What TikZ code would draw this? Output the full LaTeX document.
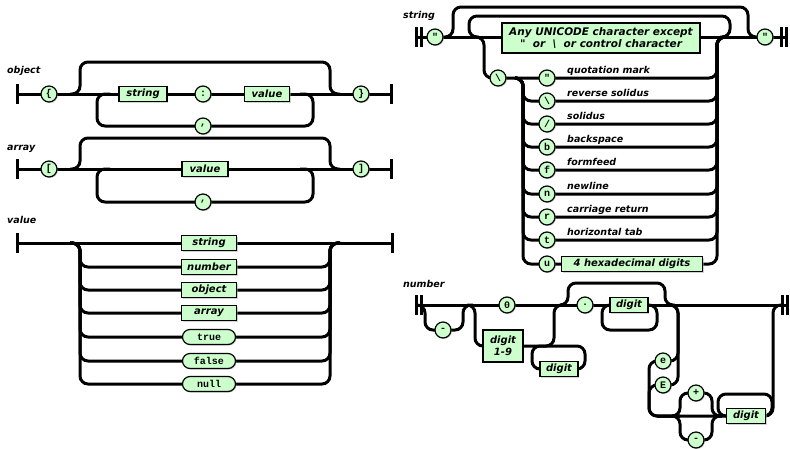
\documentclass[tikz,border=0pt]{standalone}
\usepackage{fontspec}
\setmonofont{Liberation Mono}
\newfontfamily\railfont{DejaVu Sans}
\usetikzlibrary{positioning, shapes.misc, shadows, backgrounds}
\definecolor{railgreen}{RGB}{204,255,204}

\begin{document}
\begin{tikzpicture}[x=1pt, y=-1pt]
    \tikzset{
        rail/.style={line width=3pt, rounded corners=8pt},
        railbar/.style={line width=3pt},
        boxshadow/.style={drop shadow={shadow xshift=1pt, shadow yshift=-1pt, fill=black!35}},
        nonterm/.style={rectangle, draw, fill=railgreen, line width=1.2pt, minimum height=15pt, inner sep=1pt, boxshadow,
            font=\railfont\bfseries\itshape\fontsize{10}{11.5}\selectfont},
        term/.style={circle, draw, fill=railgreen, line width=1.2pt, minimum size=16pt, inner sep=0pt, boxshadow,
            font=\ttfamily\bfseries\fontsize{10}{10}\selectfont},
        lit/.style={rounded rectangle, draw, fill=railgreen, line width=1.2pt, minimum width=55pt, minimum height=15pt, inner sep=1pt, boxshadow,
            font=\ttfamily\bfseries\fontsize{10}{10}\selectfont},
        title/.style={anchor=base west, inner sep=0pt, font=\railfont\bfseries\itshape\fontsize{9.5}{11}\selectfont}
    }
    \useasboundingbox (0,0) rectangle (790,448);

    % Nodes: object
    \node[title] (oTitle) at (7,73) {object};
    \node[term] (oOpen) at (49,94) {\{};
    \node[nonterm, minimum width=48pt] (oStr) at (143,94) {string};
    \node[term] (oColon) at (203,94) {:};
    \node[nonterm, minimum width=45pt] (oVal) at (267,94) {value};
    \node[term] (oClose) at (361,94) {\}};
    \node[term] (oComma) at (203,126) {,};

    % Nodes: array
    \node[title] (aTitle) at (7,150) {array};
    \node[term] (aOpen) at (49,169) {[};
    \node[nonterm, minimum width=46pt] (aVal) at (205,169) {value};
    \node[term] (aClose) at (361,169) {]};
    \node[term] (aComma) at (203,202) {,};

    % Nodes: value
    \node[title] (vTitle) at (7,223) {value};
    \foreach \y/\txt/\nm in {243/string/vStr, 267/number/vNum, 290/object/vObj, 313/array/vArr}
        \node[nonterm, minimum width=55pt] (\nm) at (209,\y) {\txt};
    \foreach \y/\txt/\nm in {337/true/vTrue, 361/false/vFalse, 384/null/vNull}
        \node[lit] (\nm) at (209,\y) {\txt};

    % Nodes: string
    \node[title] (sTitle) at (403,18) {string};
    \node[term] (sOpen) at (435,37) {"};
    \node[nonterm, minimum width=198pt, minimum height=30pt, align=center, font=\railfont\bfseries\itshape\fontsize{10.5}{12}\selectfont] (sAny) at (601,38)
        {Any UNICODE character except\\\textquotedbl\ \ or \ \textbackslash\ \ or control character};
    \node[term] (sClose) at (765,37) {"};
    \node[term] (sBack) at (498,78) {\textbackslash};
    \foreach \y/\c/\txt/\nm in {78/"/quotation mark/eQuot, 101/\textbackslash/reverse solidus/eRev,
            124/{/}/solidus/eSol, 147/b/backspace/eBs, 170/f/formfeed/eFf, 194/n/newline/eNl,
            217/r/carriage return/eCr, 240/t/horizontal tab/eTab} {
        \node[term] (\nm) at (547,\y) {\c};
        \node[title] (\nm Txt) at (567,\y-5) {\txt};
    }
    \node[term] (eUni) at (547,264) {u};
    \node[nonterm, minimum width=141pt] (eHex) at (632,264) {4 hexadecimal digits};

    % Nodes: number
    \node[title] (nTitle) at (403,287) {number};
    \node[term] (nMinus) at (443,330) {-};
    \node[term] (nZero) at (507,305) {0};
    \node[nonterm, minimum width=40pt, minimum height=32pt, align=center] (nD19) at (503,346) {digit\\1-9};
    \node[nonterm, minimum width=38pt] (nIntD) at (559,369) {digit};
    \node[term] (nDot) at (585,305) {.};
    \node[nonterm, minimum width=38pt] (nFracD) at (629,305) {digit};
    \node[term] (nLowE) at (663,361) {e};
    \node[term] (nUpE) at (663,385) {E};
    \node[term] (nPlus) at (696,393) {+};
    \node[term] (nNeg) at (696,440) {-};
    \node[nonterm, minimum width=39pt] (nExpD) at (746,416) {digit};

    % Edges
    \begin{scope}[on background layer]
        % object
        \draw[railbar] (17,84) -- (17,104) (391,84) -- (391,104);
        \draw[rail] (17,94) -- (oOpen.center) -- (oStr.center) -- (oColon.center) -- (oVal.center) -- (oClose.center) -- (391,94);
        \draw[rail] (70,94) -| (80,62) -| (330,94) -- (340,94);
        \draw[rail] (300,94) -| (313,126) -- (oComma.center) -| (97,94) -- (110,94);
        % array
        \draw[railbar] (17,159) -- (17,179) (391,159) -- (391,179);
        \draw[rail] (17,169) -- (aOpen.center) -- (aVal.center) -- (aClose.center) -- (391,169);
        \draw[rail] (70,169) -| (80,138) -| (330,169) -- (340,169);
        \draw[rail] (300,169) -| (313,202) -- (aComma.center) -| (97,169) -- (110,169);
        % value
        \draw[railbar] (17,233) -- (17,253) (392,233) -- (392,253);
        \draw[rail] (17,243) -- (vStr.center) -- (392,243);
        \foreach \nm in {vNum, vObj, vArr, vTrue, vFalse, vNull}
            \draw[rail] (70,243) -| (80,0 |- \nm) -- (330,0 |- \nm) |- (340,243);
        % string
        \draw[railbar] (416,27) -- (416,47) (421,27) -- (421,47) (781,27) -- (781,47) (786,27) -- (786,47);
        \draw[rail] (416,37) -- (sOpen.center) -- (sAny.center |- sOpen) -- (sClose.center) -- (786,37);
        \draw[rail] (443,37) -| (453,7) -| (748,37) -- (758,37);
        \draw[rail] (720,37) -| (730,16) -| (469,37) -- (479,37);
        \draw[rail] (474,37) -| (484,78) -- (sBack.center) -- (eQuot.center) -- (717,78) |- (727,37);
        \foreach \nm in {eRev, eSol, eBs, eFf, eNl, eCr, eTab, eUni}
            \draw[rail] (515,78) -| (523,0 |- \nm) -- (\nm.center) -- (717,0 |- \nm) |- (727,37);
        % number
        \draw[railbar] (416,295) -- (416,315) (421,295) -- (421,315) (782,295) -- (782,315) (787,295) -- (787,315);
        \draw[rail] (416,305) -- (nZero.center) -- (nDot.center) -- (nFracD.center) -- (787,305);
        \draw[rail] (417,305) -| (425,330) -- (nMinus.center) -| (463,305) -- (473,305);
        \draw[rail] (467,305) -| (475,346) -- (nD19.center) -- (554,346) |- (564,305);
        \draw[rail] (532,346) rectangle (585,369);
        \draw[rail] (560,305) -| (568,283) -| (665,305) -- (675,305);
        \draw[rail] (602,305) rectangle (657,330);
        \draw[rail] (670,305) -| (678,361) -- (nLowE.center) -| (649,416) -- (680,416);
        \draw[rail] (670,305) -| (678,385) -- (nUpE.center) -| (649,416) -- (680,416);
        \draw[rail] (657,416) -- (nExpD.center) -| (773,305) -- (783,305);
        \draw[rail] (672,416) -| (680,393) -- (nPlus.center) -| (712,416) -- (722,416);
        \draw[rail] (672,416) -| (680,440) -- (nNeg.center) -| (712,416) -- (722,416);
        \draw[rail] (718,394) rectangle (772,416);
    \end{scope}
\end{tikzpicture}
\end{document}
